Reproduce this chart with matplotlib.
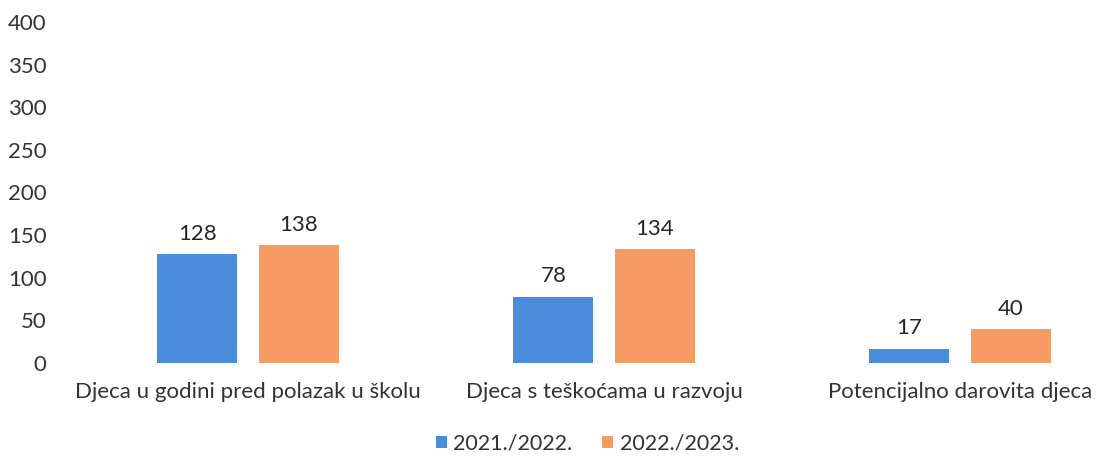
import numpy as np
import matplotlib.pyplot as plt

plt.rcParams['font.family'] = ['Lato', 'DejaVu Sans']

categories = ['Djeca u godini pred polazak u školu',
              'Djeca s teškoćama u razvoju',
              'Potencijalno darovita djeca']
series_names = ['2021./2022.', '2022./2023.']
vals_2122 = [128, 78, 17]
vals_2223 = [138, 134, 40]
colors = ['#4a8cda', '#f59b63']

fig = plt.figure(figsize=(10.96, 4.57), dpi=100)
ax = fig.add_axes([70 / 1096, 94 / 457, (1096 - 70) / 1096, (435 - 94) / 457])

x = np.arange(len(categories))
w = 0.225
off = 0.142
for vals, dx, c, name in [(vals_2122, -off, colors[0], series_names[0]),
                          (vals_2223, off, colors[1], series_names[1])]:
    bars = ax.bar(x + dx, vals, w, color=c, label=name)
    for b, v in zip(bars, vals):
        ax.text(b.get_x() + b.get_width() / 2, v + 12, str(v),
                ha='center', va='bottom', fontsize=16, color='#262626')

ax.set_xlim(-0.5, (1096 - 248) / 356)
ax.set_ylim(0, 400)
ax.set_yticks(range(0, 401, 50))
ax.set_xticks(x)
ax.set_xticklabels(categories)
ax.tick_params(axis='both', length=0, labelsize=16, colors='#333333')
ax.tick_params(axis='y', pad=17)
ax.tick_params(axis='x', pad=14)
for s in ax.spines.values():
    s.set_visible(False)

fig.legend(loc='lower center', bbox_to_anchor=(0.536, -0.035), ncol=2, frameon=False,
           fontsize=15.5, handlelength=0.5, handleheight=0.5, handletextpad=0.3,
           columnspacing=1.4, labelcolor='#333333')

fig.savefig('out.png', dpi=100)
